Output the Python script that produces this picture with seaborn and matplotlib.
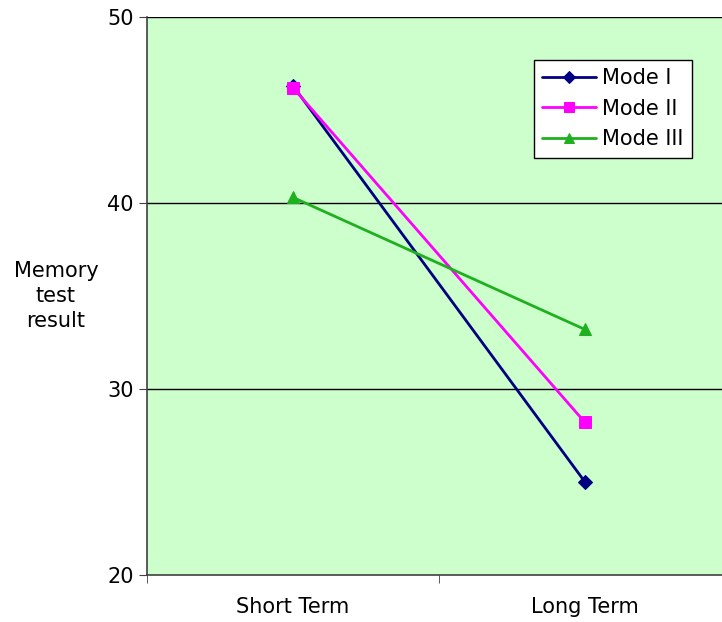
import pandas as pd
import numpy as np
import matplotlib.pyplot as plt
import seaborn as sns

terms = ["Short Term", "Long Term"]
mode_1 = [46.3, 25.0]
mode_2 = [46.2, 28.2]
mode_3 = [40.3, 33.2]
modes = ["Mode I", "Mode II", "Mode III"]

df = pd.DataFrame({
    "Term": terms * 3,
    "Result": mode_1 + mode_2 + mode_3,
    "Mode": np.repeat(modes, len(terms)),
})

sns.set_style("ticks")
plt.rcParams["font.family"] = ["DejaVu Sans"]
plt.rcParams["text.color"] = "black"
plt.rcParams["axes.labelcolor"] = "black"
plt.rcParams["xtick.labelcolor"] = "black"
plt.rcParams["ytick.labelcolor"] = "black"

fig = plt.figure(figsize=(7.22, 6.22), dpi=100)
ax = fig.add_axes([147 / 722, 47 / 622, 584 / 722, 558 / 622])
ax.set_facecolor("#CCFFCC")

palette = {"Mode I": "#000080", "Mode II": "#FF00FF", "Mode III": "#1FB01F"}
markers = {"Mode I": "D", "Mode II": "s", "Mode III": "^"}
sizes = {"Mode I": 7, "Mode II": 8, "Mode III": 9}

for m in modes:
    sub = df[df["Mode"] == m]
    sns.lineplot(data=sub, x="Term", y="Result", color=palette[m],
                 marker=markers[m], markersize=sizes[m], markeredgecolor=palette[m],
                 linewidth=2, label=m, ax=ax, zorder=3)

fs = 15
ax.set_xlim(-0.5, 1.5)
ax.set_ylim(20, 50)
ax.set_yticks([20, 30, 40, 50])
ax.set_xticks([0, 1])
ax.set_xticklabels(terms, fontsize=fs)
ax.tick_params(axis="x", length=0, pad=16)
ax.set_xticks([-0.5, 0.5, 1.5], minor=True)
ax.tick_params(axis="x", which="minor", length=6, color="#404040", direction="out")
ax.tick_params(axis="y", labelsize=fs, length=6, color="#404040", direction="out")
for y in [30, 40, 50]:
    ax.axhline(y, color="black", linewidth=1, zorder=1)

for s in ["top", "right"]:
    ax.spines[s].set_visible(False)
for s in ["left", "bottom"]:
    ax.spines[s].set_color("#404040")
    ax.spines[s].set_linewidth(1.2)

ax.set_xlabel("")
ax.set_ylabel("Memory\ntest\nresult", rotation=0, fontsize=fs, labelpad=37,
              va="center", linespacing=1.3)

leg = ax.legend(loc="upper right", bbox_to_anchor=((692 - 147) / 584, 1 - 43 / 558),
                fontsize=fs, frameon=True, fancybox=False, edgecolor="black",
                framealpha=1, handlelength=2.6, borderpad=0.4, labelspacing=0.5,
                handletextpad=0.3, borderaxespad=0, markerscale=0.85)
leg.get_frame().set_linewidth(1)

fig.savefig("out.png", dpi=100)
